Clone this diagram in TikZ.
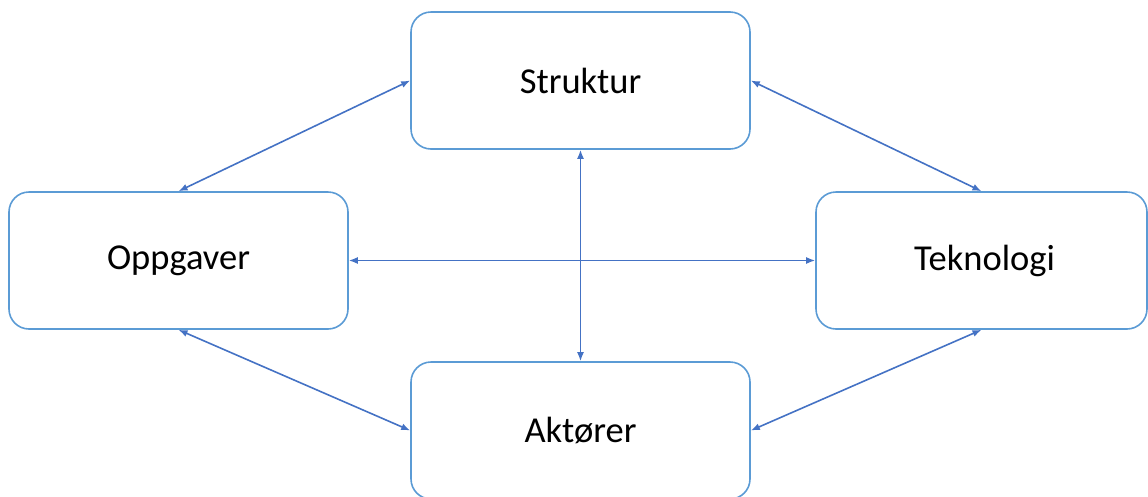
\documentclass[tikz,border=0pt]{standalone}
\usepackage{fontspec}
\setmainfont{Carlito}
\usetikzlibrary{arrows.meta}
\definecolor{boxblue}{HTML}{5B9BD5}
\definecolor{arrowblue}{HTML}{4472C4}
\tikzset{
  box/.style={draw=boxblue, line width=1.6pt, rounded corners=20pt, fill=white,
    minimum width=339pt, minimum height=137pt, inner sep=0pt, font=\fontsize{36.5}{42}\selectfont},
  link/.style={draw=arrowblue, line width=1.6pt, {Latex[length=9pt,width=7pt]}-{Latex[length=9pt,width=7pt]}}
}
\begin{document}
\begin{tikzpicture}[x=1pt,y=-1pt]
\useasboundingbox (0,0) rectangle (1148,496);
\node[box] (s) at (580.5,80.5) {Struktur};
\node[box] (o) at (178.5,260.5) {Oppgaver};
\node[box, minimum width=331pt] (t) at (981.5,260.5) {\hspace*{6pt}Teknologi};
\node[box] (a) at (580.5,430.5) {Aktører};
\draw[link] (s.west) -- (o.north);
\draw[link] (s.east) -- (t.north);
\draw[link] (o.south) -- (a.west);
\draw[link] (t.south) -- (a.east);
\draw[link] (o.east) -- (t.west);
\draw[link] (s.south) -- (a.north);
\end{tikzpicture}
\end{document}
